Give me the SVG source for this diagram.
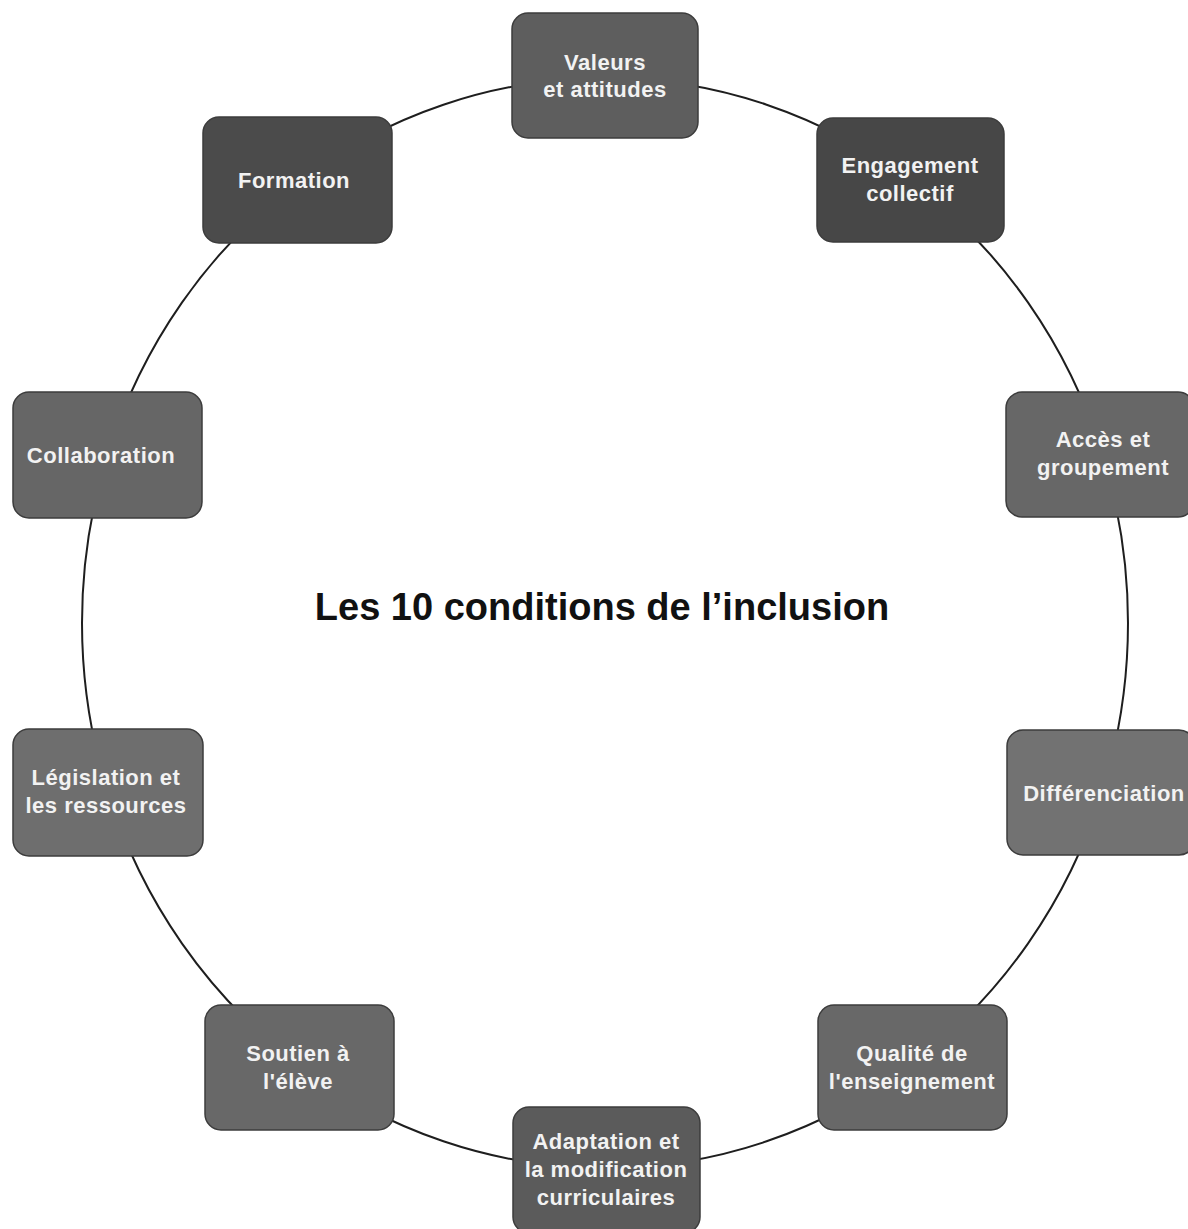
<svg xmlns="http://www.w3.org/2000/svg" width="1188" height="1229" viewBox="0 0 1188 1229">
<style>
.box{stroke:#3c3c3c;stroke-width:1.5}
.lbl{font-family:"Liberation Sans",Arial,sans-serif;font-weight:bold;font-size:22px;fill:#f2f2f2;text-anchor:middle;letter-spacing:0.5px}
.title{font-family:"Liberation Sans",Arial,sans-serif;font-weight:bold;font-size:38px;fill:#111;text-anchor:middle;letter-spacing:0px}
.arc{fill:none;stroke:#1e1e1e;stroke-width:2}
</style>
<rect width="1188" height="1229" fill="#ffffff"/>
<g id="connectors">
<path class="arc" d="M605 78 A523 545 0 0 1 912.4 182.1"/>
<path class="arc" d="M912.4 182.1 A523 545 0 0 1 1102.4 454.6"/>
<path class="arc" d="M1102.4 454.6 A523 545 0 0 1 1102.4 791.4"/>
<path class="arc" d="M1102.4 791.4 A523 545 0 0 1 912.4 1063.9"/>
<path class="arc" d="M912.4 1063.9 A523 545 0 0 1 605 1168"/>
<path class="arc" d="M605 1168 A523 545 0 0 1 297.6 1063.9"/>
<path class="arc" d="M297.6 1063.9 A523 545 0 0 1 107.6 791.4"/>
<path class="arc" d="M107.6 791.4 A523 545 0 0 1 107.6 454.6"/>
<path class="arc" d="M107.6 454.6 A523 545 0 0 1 297.6 182.1"/>
<path class="arc" d="M297.6 182.1 A523 545 0 0 1 605 78"/>
</g>
<g id="valeurs">
<rect class="box" x="512" y="13" width="186" height="125" rx="16" fill="#5e5e5e"/>
<text class="lbl" x="605" y="70">Valeurs</text>
<text class="lbl" x="605" y="97">et attitudes</text>
</g>
<g id="engagement">
<rect class="box" x="817" y="118" width="187" height="124" rx="16" fill="#474747"/>
<text class="lbl" x="910" y="173">Engagement</text>
<text class="lbl" x="910" y="201">collectif</text>
</g>
<g id="acces">
<rect class="box" x="1006" y="392" width="188" height="125" rx="16" fill="#676767"/>
<text class="lbl" x="1103" y="447">Accès et</text>
<text class="lbl" x="1103" y="475">groupement</text>
</g>
<g id="differenciation">
<rect class="box" x="1007" y="730" width="188" height="125" rx="16" fill="#727272"/>
<text class="lbl" x="1104" y="801">Différenciation</text>
</g>
<g id="qualite">
<rect class="box" x="818" y="1005" width="189" height="125" rx="16" fill="#686868"/>
<text class="lbl" x="912" y="1061">Qualité de</text>
<text class="lbl" x="912" y="1089">l'enseignement</text>
</g>
<g id="adaptation">
<rect class="box" x="513" y="1107" width="187" height="126" rx="16" fill="#5b5b5b"/>
<text class="lbl" x="606" y="1149">Adaptation et</text>
<text class="lbl" x="606" y="1177">la modification</text>
<text class="lbl" x="606" y="1205">curriculaires</text>
</g>
<g id="soutien">
<rect class="box" x="205" y="1005" width="189" height="125" rx="16" fill="#686868"/>
<text class="lbl" x="298" y="1061">Soutien à</text>
<text class="lbl" x="298" y="1089">l'élève</text>
</g>
<g id="legislation">
<rect class="box" x="13" y="729" width="190" height="127" rx="16" fill="#6e6e6e"/>
<text class="lbl" x="106" y="785">Législation et</text>
<text class="lbl" x="106" y="813">les ressources</text>
</g>
<g id="collaboration">
<rect class="box" x="13" y="392" width="189" height="126" rx="16" fill="#666666"/>
<text class="lbl" x="101" y="463">Collaboration</text>
</g>
<g id="formation">
<rect class="box" x="203" y="117" width="189" height="126" rx="16" fill="#4b4b4b"/>
<text class="lbl" x="294" y="188">Formation</text>
</g>
<text class="title" x="602" y="620">Les 10 conditions de l’inclusion</text>
</svg>
